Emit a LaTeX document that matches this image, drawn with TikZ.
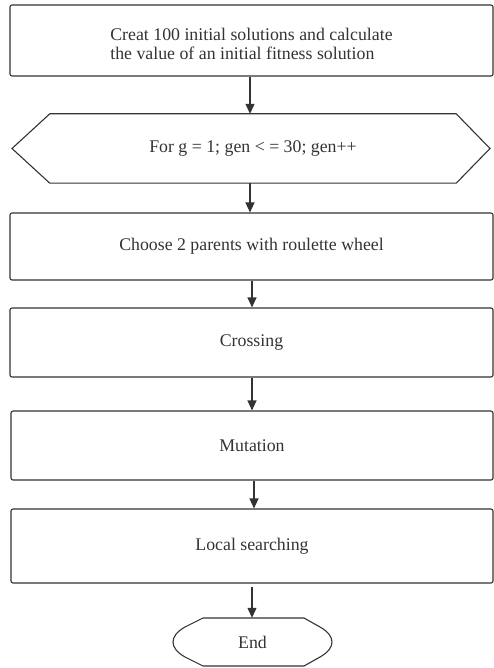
\documentclass[tikz,border=0pt]{standalone}
\usepackage{fontspec}
\setmainfont{Liberation Serif}
\usetikzlibrary{arrows.meta}
\definecolor{ink}{HTML}{333333}
\tikzset{
  x=1pt, y=-1pt,
  box/.style={draw=ink, line width=1.1pt, rounded corners=2pt, text=ink, font=\fontsize{17.8}{18.5}\selectfont, align=center, inner sep=0pt},
  plain/.style={text=ink, font=\fontsize{17.8}{18.5}\selectfont, align=center, inner sep=0pt},
  outline/.style={draw=ink, line width=1.1pt},
  flow/.style={draw=ink, line width=1.1pt, -{Triangle[length=10pt,width=9pt]}}
}
\begin{document}
\begin{tikzpicture}
\useasboundingbox (0,0) rectangle (494,668);
\node[box, minimum width=483pt, minimum height=71pt] (init) at (251.5,40.5) {};
\node[plain, align=left] (inittext) at (init.center) [yshift=-3.5pt] {Creat 100 initial solutions and calculate\\the value of an initial fitness solution};
\node[plain, minimum width=406pt, minimum height=69pt] (loop) at (253,148.5) {For g = 1; gen < = 30; gen++};
\draw[outline] (loop.north west) -- (loop.north east) -- (490,148.5) -- (loop.south east) -- (loop.south west) -- (12,148.5) -- cycle;
\node[box, minimum width=483pt, minimum height=67pt] (choose) at (251.5,246.5) {Choose 2 parents with roulette wheel};
\node[box, minimum width=483pt, minimum height=69pt] (cross) at (251.5,342.5) {Crossing};
\node[box, minimum width=482pt, minimum height=69pt] (mut) at (252,445.5) {Mutation};
\node[box, minimum width=482pt, minimum height=74pt] (local) at (252,546) {Local searching};
\node[plain, minimum width=159pt, minimum height=48pt] (end) at (252.5,642) {End};
\draw[outline] (203,618) -- (304,618) -- (320,627) .. controls (336,636) and (336,648) .. (320,657) -- (304,666) -- (203,666) -- (185,657) .. controls (169,648) and (169,636) .. (185,627) -- cycle;
\draw[flow] (init.south -| 250,0) -- (loop.north -| 250,0);
\draw[flow] (loop.south -| 250,0) -- (choose.north -| 250,0);
\draw[flow] (choose.south -| 252,0) -- (cross.north -| 252,0);
\draw[flow] (cross.south -| 252,0) -- (mut.north -| 252,0);
\draw[flow] (mut.south -| 254,0) -- (local.north -| 254,0);
\draw[flow] (local.south -| 252,0) ++(0,3) -- (end.north -| 252,0);
\end{tikzpicture}
\end{document}
